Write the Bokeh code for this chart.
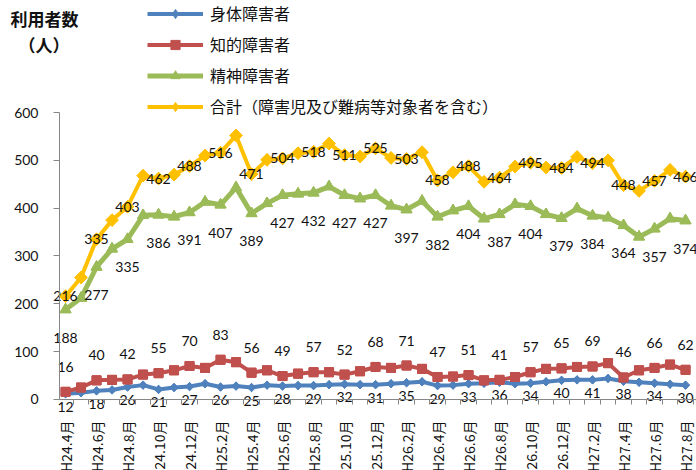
import numpy as np
from bokeh.plotting import figure
from bokeh.models import ColumnDataSource, FixedTicker, Legend, LegendItem, Label, Range1d
from bokeh.core.properties import value
from bokeh.embed import file_html
from bokeh.resources import INLINE

# ---------------- data ----------------
months = ["H24.4月", "H24.5月", "H24.6月", "H24.7月", "H24.8月", "H24.9月", "H24.10月", "H24.11月",
          "H24.12月", "H25.1月", "H25.2月", "H25.3月", "H25.4月", "H25.5月", "H25.6月", "H25.7月",
          "H25.8月", "H25.9月", "H25.10月", "H25.11月", "H25.12月", "H26.1月", "H26.2月", "H26.3月",
          "H26.4月", "H26.5月", "H26.6月", "H26.7月", "H26.8月", "H26.9月", "H26.10月", "H26.11月",
          "H26.12月", "H27.1月", "H27.2月", "H27.3月", "H27.4月", "H27.5月", "H27.6月", "H27.7月",
          "H27.8月"]
shintai = [12, 14, 18, 20, 26, 30, 21, 25, 27, 33, 26, 28, 25, 30, 28, 29, 29, 31, 32, 31, 31,
           33, 35, 37, 29, 30, 33, 34, 36, 33, 34, 37, 40, 41, 41, 44, 38, 36, 34, 32, 30]
chiteki = [16, 25, 40, 41, 42, 52, 55, 61, 70, 66, 83, 78, 56, 61, 49, 54, 57, 57, 52, 59, 68,
           66, 71, 64, 47, 48, 51, 40, 41, 47, 57, 64, 65, 68, 69, 76, 46, 61, 66, 73, 62]
seishin = [188, 212, 277, 315, 335, 385, 386, 382, 391, 413, 407, 443, 389, 410, 427, 430, 432,
           445, 427, 420, 427, 405, 397, 415, 382, 395, 404, 378, 387, 408, 404, 387, 379, 399,
           384, 380, 364, 340, 357, 378, 374]
goukei = [216, 255, 335, 375, 403, 468, 462, 470, 488, 510, 516, 552, 471, 501, 504, 515, 518,
          535, 511, 508, 525, 505, 503, 517, 458, 475, 488, 455, 464, 487, 495, 485, 484, 507,
          494, 500, 448, 436, 457, 480, 466]
series_names = ["身体障害者", "知的障害者", "精神障害者", "合計（障害児及び難病等対象者を含む）"]
y_ticks = [0, 100, 200, 300, 400, 500, 600]
title_lines = ["利用者数", "（人）"]

# ---------------- layout constants (pixels) ----------------
W, H = 696, 470
AXIS_X = 59          # y axis position inside the canvas
AXIS_TOP = 112       # canvas y of the top tick
PX_PER_MONTH = 15.5
X0 = -0.39           # data x at the y axis
PX_PER_Y = 0.4783
x_start = X0 - AXIS_X / PX_PER_MONTH
x_end = X0 + (W - AXIS_X) / PX_PER_MONTH
y_end = y_ticks[-1] + AXIS_TOP / PX_PER_Y
y_start = y_ticks[-1] - (H - AXIS_TOP) / PX_PER_Y

colors = ["#4F81BD", "#C0504D", "#9BBB59", "#FFC000"]
NUM_FONT = "Lato"
JP_FONT = "Noto Sans CJK JP"
TXT = "#111111"

p = figure(width=W, height=H, output_backend="svg", toolbar_location=None,
           x_range=Range1d(x_start, x_end), y_range=Range1d(y_start, y_end),
           min_border_left=0, min_border_right=0, min_border_top=0, min_border_bottom=0)
p.title.visible = False
p.xgrid.visible = False
p.ygrid.visible = False
p.outline_line_color = None
p.background_fill_color = "white"
p.border_fill_color = "white"

x = list(range(len(months)))
src = ColumnDataSource(dict(x=x, shintai=shintai, chiteki=chiteki, seishin=seishin, goukei=goukei))

# (column, colour, marker, size, angle, line width, label offset, legend marker, legend size)
specs = [
    ("shintai", colors[0], "square", 6, np.pi / 4, 4, 13, "diamond", 8),
    ("chiteki", colors[1], "square", 9, 0.0, 4, -25, "square", 9),
    ("seishin", colors[2], "triangle", 11, 0.0, 5, 28, "triangle", 11),
    ("goukei", colors[3], "square", 9, np.pi / 4, 4, 0, "diamond", 12),
]
series_data = {"shintai": shintai, "chiteki": chiteki, "seishin": seishin, "goukei": goukei}

items = []
for (col, c, mk, sz, ang, lw, dy, lmk, lsz), name in zip(specs, series_names):
    rl = p.line("x", col, source=src, line_color=c, line_width=lw, line_join="round")
    # marker used for the legend swatch (covered by the rotated square on the chart)
    rleg = p.scatter("x", col, source=src, marker=lmk, size=lsz, fill_color=c, line_color=c)
    p.scatter("x", col, source=src, marker=mk, size=sz, angle=ang, fill_color=c, line_color=c)
    items.append(LegendItem(label=name, renderers=[rl, rleg]))

# data labels on every other month
for (col, c, mk, sz, ang, lw, dy, lmk, lsz) in specs:
    vals = series_data[col]
    lsrc = ColumnDataSource(dict(x=x[::2], y=vals[::2], t=[str(v) for v in vals[::2]]))
    p.text("x", "y", text="t", source=lsrc, text_font=value(NUM_FONT), text_font_size="14px",
           text_align="center", text_baseline="middle", y_offset=dy, text_color=TXT)

# x axis (drawn at y = 0)
xa = p.xaxis[0]
xa.fixed_location = y_ticks[0]
xa.bounds = (X0, x_end)
xa.ticker = FixedTicker(ticks=x[::2], minor_ticks=[i + 0.5 for i in x])
xa.major_label_overrides = {i: months[i] for i in x[::2]}
xa.major_label_orientation = np.pi / 2
xa.major_tick_out = 0
xa.major_tick_in = 0
xa.minor_tick_out = 5
xa.minor_tick_in = 0
xa.axis_line_color = "#868686"
xa.minor_tick_line_color = "#868686"
xa.major_label_standoff = 16
xa.major_label_text_font = JP_FONT
xa.major_label_text_font_size = "14px"
xa.major_label_text_color = TXT

# y axis (drawn at x = X0)
ya = p.yaxis[0]
ya.fixed_location = X0
ya.ticker = FixedTicker(ticks=y_ticks, minor_ticks=[])
ya.bounds = (y_ticks[0], y_ticks[-1])
ya.major_tick_out = 6
ya.major_tick_in = 0
ya.minor_tick_out = 0
ya.minor_tick_in = 0
ya.axis_line_color = "#868686"
ya.major_tick_line_color = "#868686"
ya.major_label_standoff = 15
ya.major_label_text_font = NUM_FONT
ya.major_label_text_font_size = "14px"
ya.major_label_text_color = TXT

LEG_ROW, LEG_GAP = 23, 7
leg_h = 4 * LEG_ROW + 3 * LEG_GAP
legend = Legend(items=items, location=(147, H - 5 - leg_h), orientation="vertical",
                glyph_width=56, glyph_height=LEG_ROW, label_height=LEG_ROW, spacing=LEG_GAP,
                padding=0, margin=0, label_standoff=7,
                label_text_font=JP_FONT, label_text_font_size="16px",
                label_text_color=TXT,
                border_line_alpha=0, background_fill_alpha=0)
p.add_layout(legend, "center")

p.add_layout(Label(x=44, y=H - 18, x_units="screen", y_units="screen", text=title_lines[0],
                   text_font=JP_FONT, text_font_style="bold", text_font_size="17px",
                   text_align="center", text_baseline="middle", text_color=TXT))
p.add_layout(Label(x=43.5, y=H - 44, x_units="screen", y_units="screen", text=title_lines[1],
                   text_font=JP_FONT, text_font_style="bold", text_font_size="17px",
                   text_align="center", text_baseline="middle", text_color=TXT))

open("out.html", "w").write(file_html(p, INLINE))
